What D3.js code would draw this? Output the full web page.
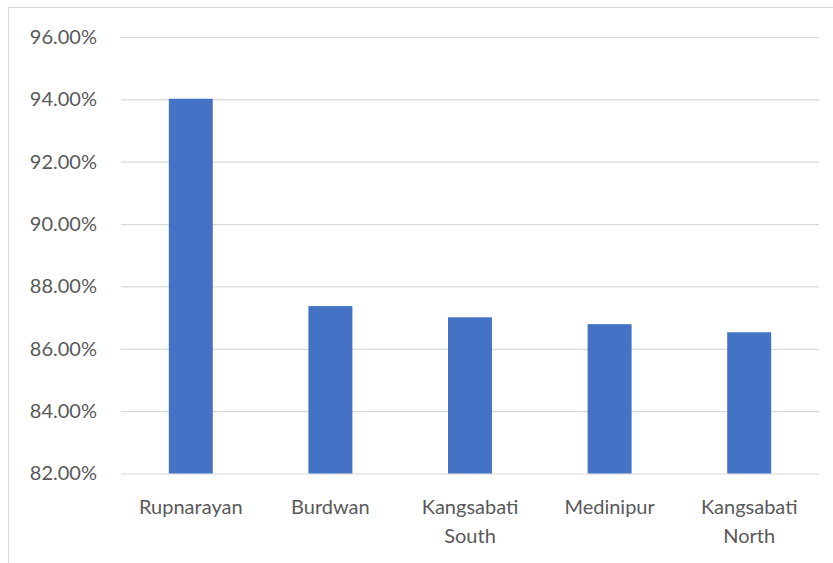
<!DOCTYPE html>
<html>
<head>
<meta charset="utf-8">
<script src="https://cdn.jsdelivr.net/npm/d3@7"></script>
<style>
  body { margin: 0; background: #fff; }
  svg { display: block; }
</style>
</head>
<body>
<div id="chart"></div>
<script>
var categories = [["Rupnarayan"], ["Burdwan"], ["Kangsabati", "South"], ["Medinipur"], ["Kangsabati", "North"]];
var values = [0.9402, 0.8737, 0.8701, 0.8679, 0.8653];
var yTicks = [0.82, 0.84, 0.86, 0.88, 0.90, 0.92, 0.94, 0.96];

var width = 833, height = 563;
var margin = {top: 37, left: 121, right: 14, bottom: 89.5};

var svg = d3.select("#chart").append("svg")
  .attr("width", width)
  .attr("height", height);

// chart border
svg.append("rect")
  .attr("x", 8.5).attr("y", 7.5)
  .attr("width", 900).attr("height", 700)
  .attr("fill", "none")
  .attr("stroke", "#d9d9d9");

var x = d3.scaleBand()
  .domain(d3.range(categories.length))
  .range([margin.left, width - margin.right])
  .paddingInner(0.685)
  .paddingOuter(0.3425);

var y = d3.scaleLinear()
  .domain([0.82, 0.96])
  .range([height - margin.bottom, margin.top]);

var yAxis = d3.axisLeft(y)
  .tickValues(yTicks)
  .tickSize(-(width - margin.left - margin.right))
  .tickPadding(24)
  .tickFormat(d3.format(".2%"));

var gy = svg.append("g")
  .attr("transform", "translate(" + margin.left + ",0)")
  .call(yAxis);
gy.select(".domain").remove();
gy.selectAll(".tick line").attr("stroke", "#d9d9d9").attr("stroke-width", 1.2);
gy.selectAll(".tick text")
  .attr("fill", "#595959")
  .style("font-family", "Lato, 'Open Sans', sans-serif")
  .style("font-size", "20px");

svg.selectAll("rect.bar")
  .data(values)
  .enter()
  .append("rect")
  .attr("class", "bar")
  .attr("x", function(d, i) { return x(i); })
  .attr("width", x.bandwidth())
  .attr("y", function(d) { return y(d); })
  .attr("height", function(d) { return y(0.82) - y(d); })
  .attr("fill", "#4472c4");

// category labels
var labels = svg.selectAll("text.cat")
  .data(categories)
  .enter()
  .append("text")
  .attr("class", "cat")
  .attr("text-anchor", "middle")
  .attr("fill", "#595959")
  .style("font-family", "Lato, 'Open Sans', sans-serif")
  .style("font-size", "20px")
  .attr("x", function(d, i) { return x(i) + x.bandwidth() / 2; })
  .attr("y", height - margin.bottom + 40);

labels.selectAll("tspan")
  .data(function(d) { return d; })
  .enter()
  .append("tspan")
  .attr("x", function() { return d3.select(this.parentNode).attr("x"); })
  .attr("dy", function(d, i) { return i === 0 ? 0 : 29; })
  .text(function(d) { return d; });
</script>
</body>
</html>
